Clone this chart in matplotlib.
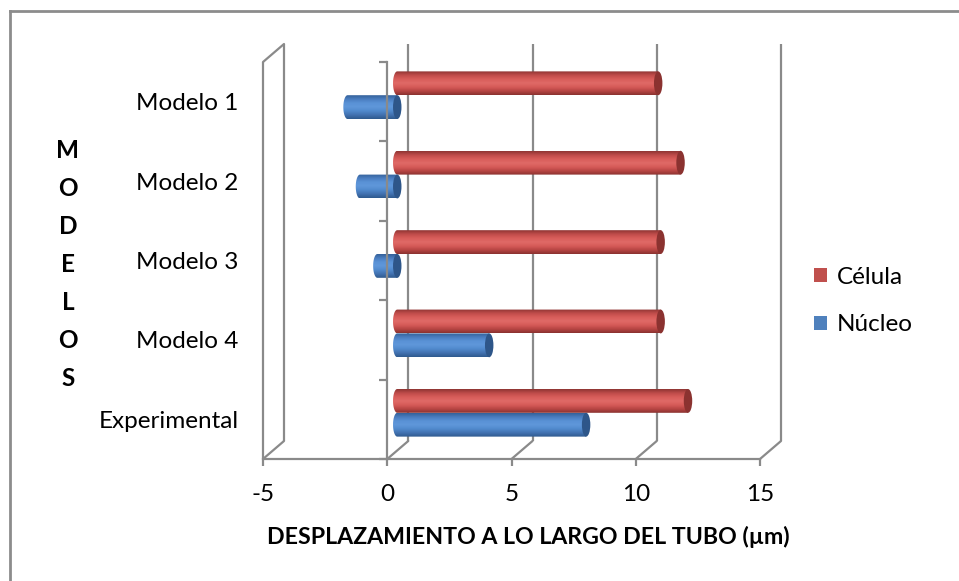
import numpy as np
import matplotlib
matplotlib.use("Agg")
import matplotlib.pyplot as plt
from matplotlib.patches import Ellipse, PathPatch, ConnectionPatch
from matplotlib.path import Path
from matplotlib.lines import Line2D
from matplotlib.colors import LinearSegmentedColormap

plt.rcParams['font.family'] = ['Lato', 'DejaVu Sans']

# ---- data ----
categories = ["Modelo 1", "Modelo 2", "Modelo 3", "Modelo 4", "Experimental"]
series_names = ["Célula", "Núcleo"]
celula = [10.5, 11.4, 10.6, 10.6, 11.7]
nucleo = [-2.0, -1.5, -0.8, 3.7, 7.6]
xticks = [-5, 0, 5, 10, 15]
x_title = "DESPLAZAMIENTO A LO LARGO DEL TUBO (µm)"
y_title = "MODELOS"

# ---- figure / layout (pixel based) ----
W, H, DPI = 959, 581, 100
fig = plt.figure(figsize=(W / DPI, H / DPI), dpi=DPI)
fig.patch.set_facecolor("white")

GRID = "#8a8a8a"
LW = 1.6
FS = 17.5


def px_axes(left, top, right, bottom):
    return fig.add_axes([left / W, 1 - bottom / H, (right - left) / W, (bottom - top) / H])


L, T, R, B = 263, 62, 760, 459      # front plane of the 3-D box
DEPTH = (21, -18)                   # back wall offset
MID = (10, -6.5)                    # plane where the cylinders sit

ax_back = px_axes(L + DEPTH[0], T + DEPTH[1], R + DEPTH[0], B + DEPTH[1])
ax_bar = px_axes(L + MID[0], T + MID[1], R + MID[0], B + MID[1])
ax = px_axes(L, T, R, B)

ncat = len(categories)
for a in (ax_back, ax_bar, ax):
    a.set_xlim(xticks[0], xticks[-1])
    a.set_ylim(ncat - 0.5, -0.5)
    a.patch.set_visible(False)
ax_back.axis("off")
ax_bar.axis("off")

# ---- back wall gridlines and box edges ----
for xv in xticks:
    ax_back.plot([xv, xv], [ncat - 0.5, -0.5], color=GRID, lw=LW,
                 solid_capstyle="butt", clip_on=False)
    fig.add_artist(ConnectionPatch((xv, ncat - 0.5), (xv, ncat - 0.5),
                                   coordsA=ax.transData, coordsB=ax_back.transData,
                                   color=GRID, lw=LW))
fig.add_artist(ConnectionPatch((xticks[0], -0.5), (xticks[0], -0.5),
                               coordsA=ax.transData, coordsB=ax_back.transData,
                               color=GRID, lw=LW))
ax.plot([xticks[0], xticks[0]], [ncat - 0.5, -0.5], color=GRID, lw=LW,
        solid_capstyle="butt", clip_on=False)

# ---- cylinders ----
bar_h = 0.30
off = 0.15
cap_w = 0.34
ypos = np.arange(ncat)

red = ax_bar.barh(ypos - off, celula, height=bar_h, color="#c0504d", zorder=1)
blue = ax_bar.barh(ypos + off, nucleo, height=bar_h, color="#4f81bd", zorder=1)

shades = {
    "red": (["#8f3533", "#c04c4a", "#d85d5a", "#e06a67", "#d65b58", "#b84644", "#8a3230"], "#8b3230"),
    "blue": (["#34619a", "#4a7dc0", "#5a92d6", "#5f97da", "#5089cc", "#4272b0", "#2f5a8e"], "#2e5689"),
}


def cylinder(patch, key):
    cols, cap_col = shades[key]
    x0, w = patch.get_x(), patch.get_width()
    y0, h = patch.get_y(), patch.get_height()
    xa, xb = min(x0, x0 + w), max(x0, x0 + w)
    yc = y0 + h / 2
    t = np.linspace(-np.pi / 2, np.pi / 2, 40)
    arc_x = xa - (cap_w / 2) * np.cos(t)
    arc_y = yc + (h / 2) * np.sin(t)
    verts = [(xb, y0)] + list(zip(arc_x, arc_y)) + [(xb, y0 + h), (xb, y0)]
    codes = [Path.MOVETO] + [Path.LINETO] * (len(verts) - 2) + [Path.CLOSEPOLY]
    body = PathPatch(Path(verts, codes), facecolor="none", edgecolor="none",
                     transform=ax_bar.transData)
    ax_bar.add_patch(body)
    cmap = LinearSegmentedColormap.from_list(key, cols)
    grad = np.linspace(0, 1, 64).reshape(-1, 1)
    im = ax_bar.imshow(grad, cmap=cmap, aspect="auto", interpolation="bilinear",
                       extent=[xa - cap_w, xb + cap_w, y0 + h, y0], origin="upper",
                       zorder=2)
    im.set_clip_path(body)
    patch.set_visible(False)
    ax_bar.add_patch(Ellipse((xb, yc), cap_w, h, facecolor=cap_col,
                             edgecolor="none", zorder=3))


leg = fig.legend([red, blue], series_names, loc="center left",
                 bbox_to_anchor=(802 / W, 1 - 301 / H), frameon=False,
                 fontsize=FS, handlelength=0.52, handleheight=0.52,
                 handletextpad=0.42, labelspacing=1.1, borderpad=0)

for p in red.patches:
    cylinder(p, "red")
for p in blue.patches:
    cylinder(p, "blue")

for a in (ax_back, ax_bar):
    a.set_xlim(xticks[0], xticks[-1])
    a.set_ylim(ncat - 0.5, -0.5)

# ---- front axes ----
for s in ("top", "right"):
    ax.spines[s].set_visible(False)
ax.spines["left"].set_position(("data", 0))
for s in ("left", "bottom"):
    ax.spines[s].set_color(GRID)
    ax.spines[s].set_linewidth(LW)
    ax.spines[s].set_zorder(5)

ax.set_xticks(xticks)
ax.set_xticklabels([str(v) for v in xticks])
ax.tick_params(axis="x", direction="out", length=5, width=LW, color=GRID,
               labelsize=FS, pad=13)
ax.set_yticks(ypos)
ax.set_yticklabels(categories)
ax.set_yticks(np.arange(-0.5, ncat, 1.0), minor=True)
ax.tick_params(axis="y", which="major", length=0, labelsize=FS, pad=107)
ax.tick_params(axis="y", which="minor", direction="out", length=6, width=LW, color=GRID)

fig.text(528 / W, 1 - 537 / H, x_title, ha="center", va="center",
         fontsize=16.7, fontweight="bold")

# vertical axis title, one letter per line
letter_pitch = 38
for i, ch in enumerate(y_title):
    fig.text(68 / W, 1 - (150 + i * letter_pitch) / H, ch, ha="center", va="center",
             fontsize=FS, fontweight="bold")

# chart area border
fig.add_artist(Line2D([9.5 / W, 1], [1 - 10.5 / H, 1 - 10.5 / H],
                      transform=fig.transFigure, color="#8c8c8c", lw=2))
fig.add_artist(Line2D([9.5 / W, 9.5 / W], [0, 1 - 10.5 / H],
                      transform=fig.transFigure, color="#8c8c8c", lw=2))

fig.savefig("out.png", dpi=DPI, facecolor="white")
